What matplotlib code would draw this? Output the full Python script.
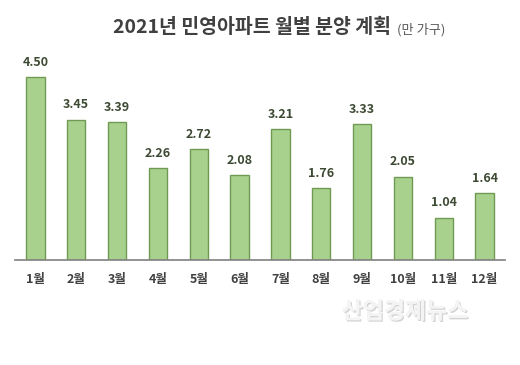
import matplotlib.pyplot as plt
from matplotlib import patheffects as pe

plt.rcParams['font.family'] = ['Noto Sans CJK KR', 'DejaVu Sans']

months = ['1월', '2월', '3월', '4월', '5월', '6월', '7월', '8월', '9월', '10월', '11월', '12월']
values = [4.50, 3.45, 3.39, 2.26, 2.72, 2.08, 3.21, 1.76, 3.33, 2.05, 1.04, 1.64]

title = '2021년 민영아파트 월별 분양 계획'
unit = '(만 가구)'

fig = plt.figure(figsize=(5.2, 3.65), dpi=100)
ax = fig.add_axes([15 / 520, 1 - 260 / 365, 490 / 520, 203.5 / 365])

x = range(len(months))
ax.bar(x, values, width=0.45, color='#a9d18e', edgecolor='#6f9a52', linewidth=1.0)
for i, v in zip(x, values):
    ax.annotate(f'{v:.2f}', (i, v), xytext=(0, 6), textcoords='offset points',
                ha='center', va='bottom', fontsize=9, fontweight='bold', color='#3d4a33')

ax.set_xlim(-0.5, 11.5)
ax.set_ylim(0, 5)
ax.set_xticks(list(x))
ax.set_xticklabels(months, fontsize=9, fontweight='bold', color='#404040')
ax.tick_params(axis='x', length=0, pad=9)
ax.set_yticks([])
for s in ['top', 'left', 'right']:
    ax.spines[s].set_visible(False)
ax.spines['bottom'].set_color('#808080')
ax.spines['bottom'].set_linewidth(1.2)

t = fig.text(113 / 520, 1 - 33 / 365, title, fontsize=14, fontweight='bold',
             color='#404040', ha='left', va='baseline')
fig.canvas.draw()
ax.annotate(unit, xy=(1, 0), xycoords=t, xytext=(4, 0), textcoords='offset points',
            fontsize=9.5, color='#595959', ha='left', va='bottom')

fig.text(405 / 520, 1 - 312 / 365, '산업경제뉴스', fontsize=16.5, fontweight='bold',
         color='#f4f4f4', ha='center', va='center',
         path_effects=[pe.withSimplePatchShadow(offset=(1, -1), shadow_rgbFace='#c8c8c8', alpha=0.8),
                       pe.Normal()])

fig.savefig('out.png', dpi=100)
